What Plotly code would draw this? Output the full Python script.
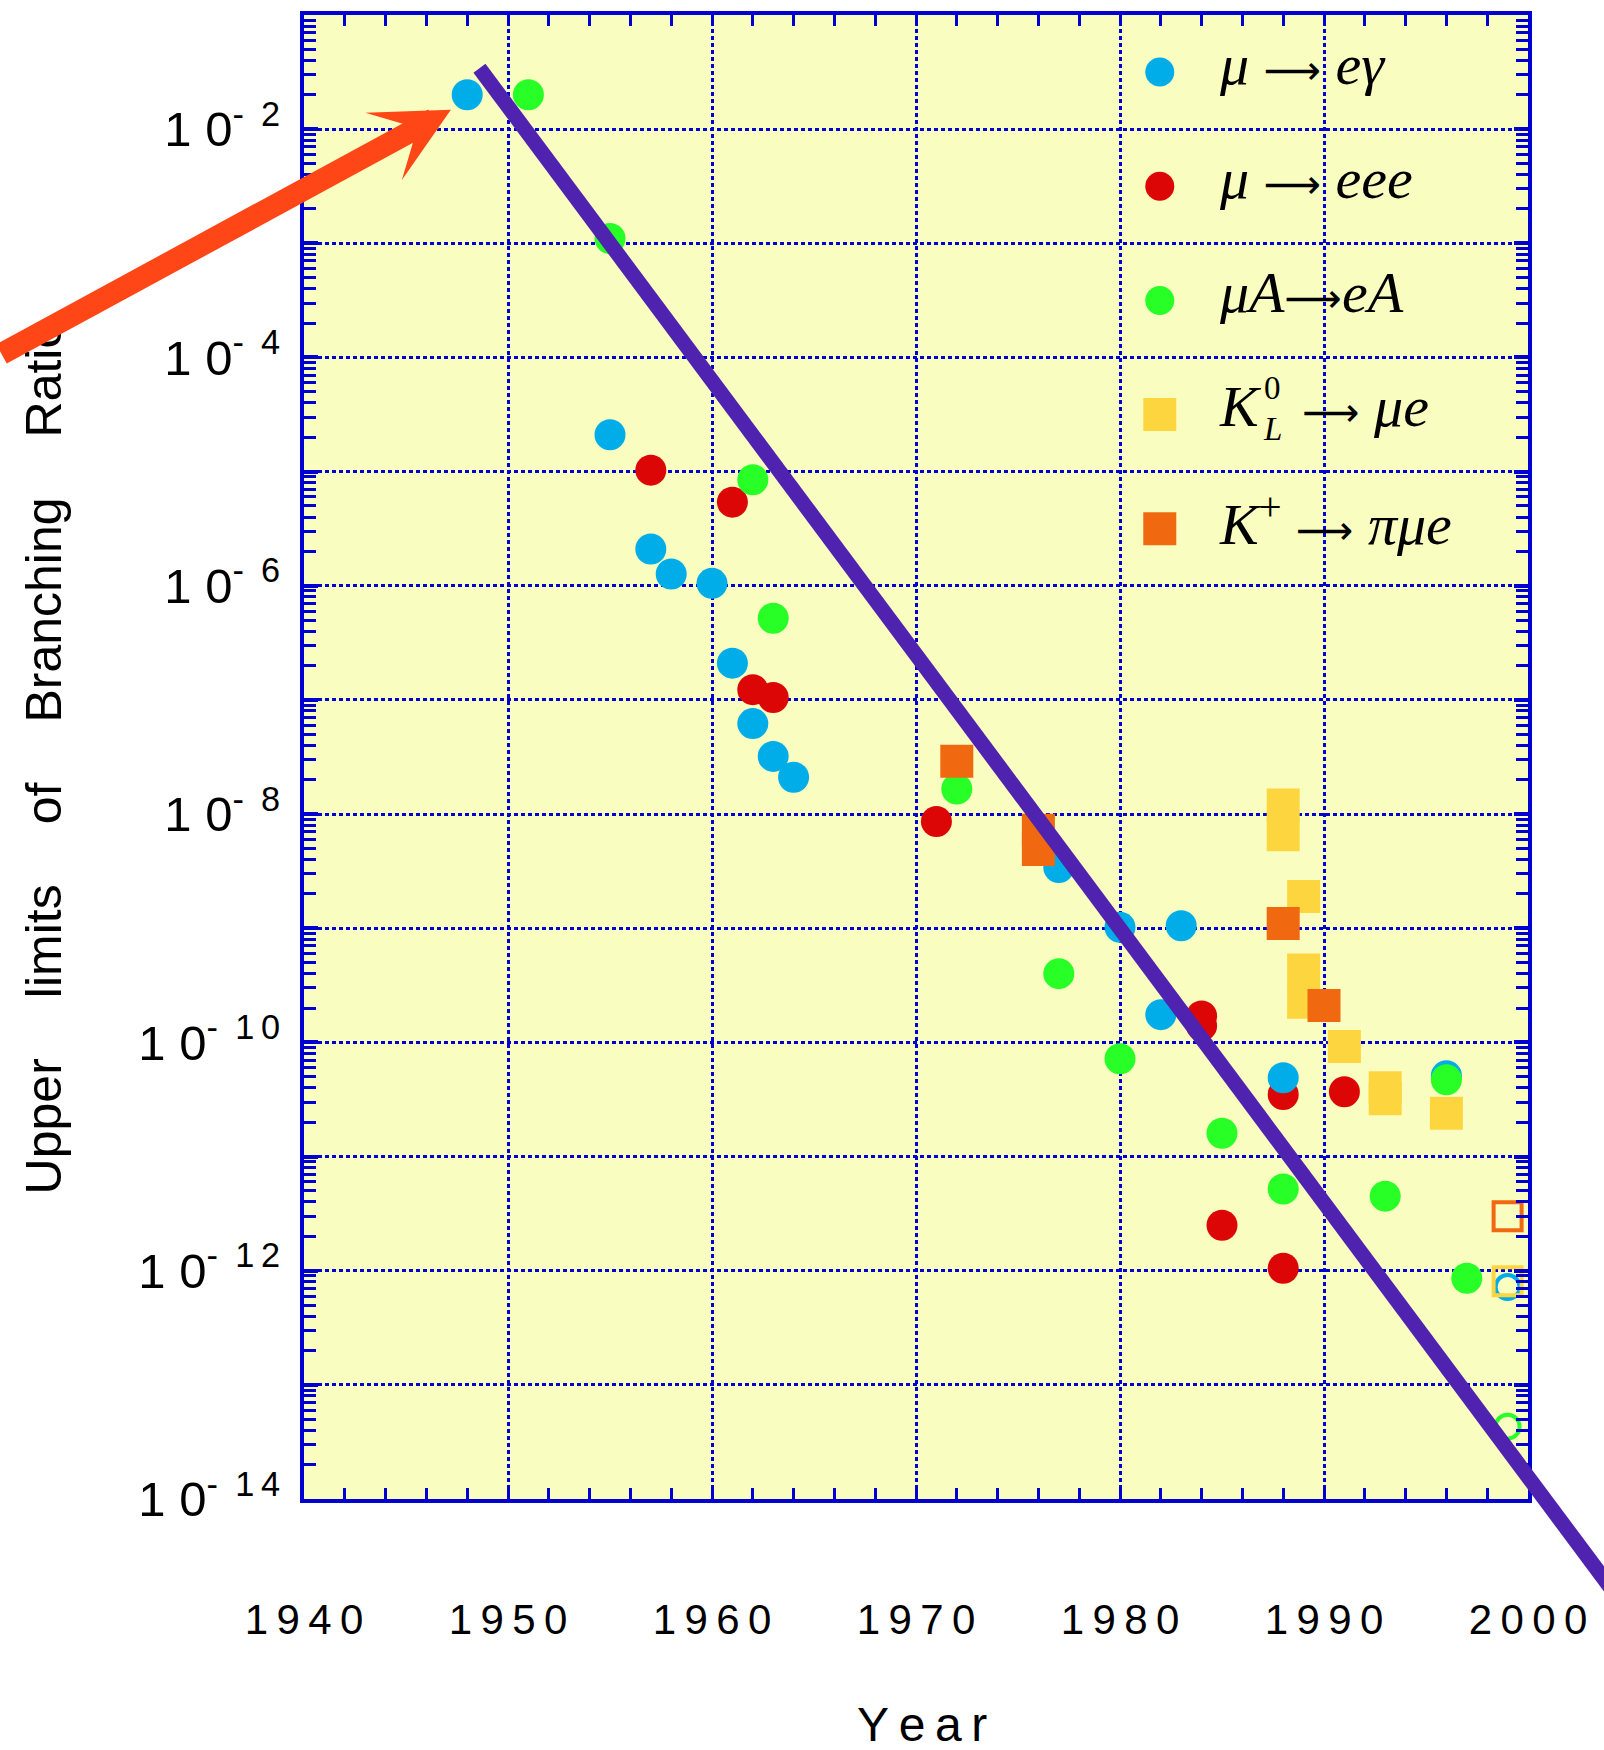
import math
import plotly.graph_objects as go

# ---------------- data ----------------
meg_year = [1948, 1955, 1957, 1958, 1960, 1961, 1962, 1963, 1964, 1977, 1980, 1982, 1983, 1988, 1996]
meg_br = [2.0e-2, 2.1e-5, 2.1e-6, 1.27e-6, 1.05e-6, 2.1e-7, 6.2e-8, 3.2e-8, 2.1e-8, 3.4e-9,
          1.02e-9, 1.75e-10, 1.05e-9, 4.9e-11, 5.1e-11]
meg_goal_year = [1999]
meg_goal_br = [7.2e-13]

meee_year = [1957, 1961, 1962, 1963, 1971, 1984, 1984, 1985, 1988, 1988, 1991]
meee_br = [1.03e-5, 5.4e-6, 1.23e-7, 1.05e-7, 8.6e-9, 1.7e-10, 1.4e-10, 2.5e-12, 3.5e-11, 1.05e-12, 3.7e-11]

mec_year = [1951, 1955, 1962, 1963, 1972, 1977, 1980, 1985, 1988, 1993, 1996, 1997]
mec_br = [2.0e-2, 1.1e-3, 8.5e-6, 5.2e-7, 1.66e-8, 4.0e-10, 7.2e-11, 1.6e-11, 5.2e-12, 4.5e-12, 4.7e-11, 8.6e-13]
mec_goal_year = [1999]
mec_goal_br = [4.3e-14]

kl_year = [1988, 1988, 1989, 1989, 1989, 1991, 1993, 1993, 1996]
kl_br = [1.2e-8, 6.6e-9, 1.9e-9, 4.3e-10, 2.25e-10, 9.2e-11, 4.0e-11, 3.2e-11, 2.4e-11]
kl_goal_year = [1999]
kl_goal_br = [8.1e-13]

kp_year = [1972, 1976, 1976, 1988, 1990]
kp_br = [2.9e-8, 7.2e-9, 4.9e-9, 1.1e-9, 2.1e-10]
kp_goal_year = [1999]
kp_goal_br = [3.0e-12]

trend_year = [1948.6, 2004.5]
trend_br = [3.42e-2, 1.3e-15]

arrow_target_year = 1947.2
arrow_target_br = 1.48e-2

x_tick_years = [1940, 1950, 1960, 1970, 1980, 1990, 2000]
y_decades = list(range(-14, 0))  # exponents of the decade gridlines
y_labelled = [-2, -4, -6, -8, -10, -12, -14]

ARR = '<span style="font-family:DejaVu Sans;font-size:40px">⟶</span>'
legend_labels = [
    "<i>μ</i> " + ARR + " <i>eγ</i>",
    "<i>μ</i> " + ARR + " <i>eee</i>",
    "<i>μA</i>" + ARR + "<i>eA</i>",
    "<i>K</i>\u2002 " + ARR + " <i>μe</i>",
    "<i>K</i><sup>+</sup> " + ARR + " <i>πμe</i>",
]

# ---------------- styling ----------------
BLUE = "#00ADE9"
RED = "#DC0606"
GREEN = "#28FF26"
YELLOW = "#FDD63F"
ORANGE = "#F0680F"
PURPLE = "#4F23B0"
ARROW = "#FF4616"
AXIS_BLUE = "#0000D2"
PLOT_BG = "#FAFDC0"

X_RANGE = [1940, 2000]
Y_LOG_RANGE = [-14, -1]

SANS = "Liberation Sans, Arial, sans-serif"
SERIF = "Liberation Serif, Times New Roman, serif"
TS = "\u2009"
HS = "\u200a"


def spaced(s, sep=TS):
    return sep.join(list(s))


def paper_x(year):
    return (year - X_RANGE[0]) / (X_RANGE[1] - X_RANGE[0])


def paper_y(v):
    return (math.log10(v) - Y_LOG_RANGE[0]) / (Y_LOG_RANGE[1] - Y_LOG_RANGE[0])


def exp_label(k):
    digits = str(abs(k))
    if len(digits) == 1:
        sup = "-\u2002" + digits
    else:
        sup = "-\u2002" + digits[0] + TS + digits[1]
    return "1" + TS + HS + "0<sup>" + sup + "</sup>"


fig = go.Figure()

CIRCLE = 31
SQUARE = 33


def add_series(xs, ys, color, symbol, size):
    fig.add_trace(go.Scatter(
        x=xs, y=ys, mode="markers", showlegend=False, hoverinfo="skip",
        marker=dict(color=color, symbol=symbol, size=size, opacity=1, line=dict(width=0)),
    ))


def add_goal(xs, ys, color, symbol, size):
    fig.add_trace(go.Scatter(
        x=xs, y=ys, mode="markers", showlegend=False, hoverinfo="skip",
        marker=dict(color=color, symbol=symbol, size=size, opacity=1,
                    line=dict(width=4, color=color)),
    ))


add_series(meee_year, meee_br, RED, "circle", CIRCLE)
add_series(meg_year, meg_br, BLUE, "circle", CIRCLE)
add_series(mec_year, mec_br, GREEN, "circle", CIRCLE)
add_series(kl_year, kl_br, YELLOW, "square", SQUARE)
add_series(kp_year, kp_br, ORANGE, "square", SQUARE)

add_goal(meg_goal_year, meg_goal_br, BLUE, "circle-open", 24)
add_goal(mec_goal_year, mec_goal_br, GREEN, "circle-open", 24)
add_goal(kl_goal_year, kl_goal_br, YELLOW, "square-open", 28)
add_goal(kp_goal_year, kp_goal_br, ORANGE, "square-open", 28)

# ---------------- hand-made legend ----------------
LEG_MARK_X = 1981.95
LEG_TEXT_X = 1984.75
legend_colors = [BLUE, RED, GREEN, YELLOW, ORANGE]
legend_symbols = ["circle", "circle", "circle", "square", "square"]
legend_sizes = [29, 29, 29, 33, 33]
legend_y = [10 ** (-1.5 - i) for i in range(len(legend_labels))]

for c, s, sz, yv in zip(legend_colors, legend_symbols, legend_sizes, legend_y):
    add_series([LEG_MARK_X], [yv], c, s, sz)

annotations = []
for lab, yv in zip(legend_labels, legend_y):
    annotations.append(dict(
        x=LEG_TEXT_X, y=math.log10(yv), xref="x", yref="y", text=lab, showarrow=False,
        xanchor="left", yanchor="middle", yshift=8,
        font=dict(family=SERIF, size=58, color="black"),
    ))
# stacked super/subscript of K_L^0
annotations.append(dict(x=1986.98, y=-4.264, xref="x", yref="y", text="0", showarrow=False,
                        xanchor="left", yanchor="middle",
                        font=dict(family=SERIF, size=33, color="black")))
annotations.append(dict(x=1986.9, y=-4.63, xref="x", yref="y", text="<i>L</i>", showarrow=False,
                        xanchor="left", yanchor="middle",
                        font=dict(family=SERIF, size=33, color="black")))

# axis titles
annotations.append(dict(
    x=-0.2121, y=0.5, xref="paper", yref="paper", textangle=-90, showarrow=False,
    xanchor="center", yanchor="middle",
    text="\u2003\u2009".join(["Upper", "limits", "of", "Branching", "Ratio"]),
    font=dict(family=SANS, size=50, color="black"),
))
annotations.append(dict(
    x=0.505, y=-0.152, xref="paper", yref="paper", showarrow=False,
    xanchor="center", yanchor="middle", text=spaced("Year"),
    font=dict(family=SANS, size=48, color="black"),
))

# red arrow
annotations.append(dict(
    x=arrow_target_year, y=math.log10(arrow_target_br), xref="x", yref="y", text="",
    showarrow=True, arrowhead=3, arrowsize=0.58, arrowwidth=22, arrowcolor=ARROW,
    ax=-470, ay=245, axref="pixel", ayref="pixel", standoff=0,
))

# trend line (extends beyond the frame, so it is placed in paper units)
shapes = [dict(
    type="line", xref="paper", yref="paper",
    x0=paper_x(trend_year[0]), y0=paper_y(trend_br[0]),
    x1=paper_x(trend_year[1]), y1=paper_y(trend_br[1]),
    line=dict(color=PURPLE, width=15), layer="above",
)]

minor_y = [m * 10.0 ** k for k in range(-14, -1) for m in range(2, 10)]

fig.update_layout(
    width=1604, height=1750,
    margin=dict(l=304, r=76, t=11, b=251, pad=0),
    paper_bgcolor="white", plot_bgcolor=PLOT_BG,
    annotations=annotations, shapes=shapes, showlegend=False,
    xaxis=dict(
        range=X_RANGE, tickmode="array", tickvals=x_tick_years,
        ticktext=[spaced(str(y)) for y in x_tick_years],
        ticks="inside", ticklen=11, tickwidth=3, tickcolor=AXIS_BLUE,
        showline=True, linewidth=4, linecolor=AXIS_BLUE, mirror="ticks",
        showgrid=True, gridcolor=AXIS_BLUE, gridwidth=3, griddash="4px,3px",
        zeroline=False, ticklabelstandoff=81,
        tickfont=dict(family=SANS, size=42, color="black"),
        minor=dict(dtick=2, tick0=1940, ticks="inside", ticklen=11, tickwidth=3,
                   tickcolor=AXIS_BLUE, showgrid=False),
    ),
    yaxis=dict(
        type="log", range=Y_LOG_RANGE, tickmode="array",
        tickvals=[10.0 ** k for k in y_decades],
        ticktext=[exp_label(k) if k in y_labelled else "" for k in y_decades],
        ticks="inside", ticklen=14, tickwidth=3.5, tickcolor=AXIS_BLUE,
        showline=True, linewidth=4, linecolor=AXIS_BLUE, mirror="ticks",
        showgrid=True, gridcolor=AXIS_BLUE, gridwidth=3, griddash="4px,3px",
        zeroline=False, ticklabelstandoff=10,
        tickfont=dict(family=SANS, size=49, color="black"),
        minor=dict(tickvals=minor_y, ticks="inside", ticklen=12, tickwidth=3,
                   tickcolor=AXIS_BLUE, showgrid=False),
    ),
)

fig.write_html("out.html")
